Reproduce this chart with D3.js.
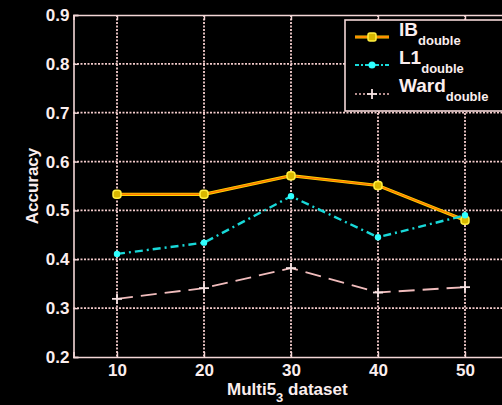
<!DOCTYPE html>
<html><head><meta charset="utf-8">
<script src="https://cdn.jsdelivr.net/npm/d3@7"></script>
<style>
html,body{margin:0;padding:0;background:#000;}
svg{display:block;}
text{font-family:"Liberation Sans",Arial,sans-serif;font-weight:bold;fill:#fbeeee;}
</style></head>
<body>
<svg id="c" width="502" height="405"></svg>
<script>
const xValues = [10, 20, 30, 40, 50];
const ibDouble = [0.533, 0.533, 0.571, 0.551, 0.48];
const l1Double = [0.411, 0.434, 0.529, 0.445, 0.49];
const wardDouble = [0.319, 0.341, 0.382, 0.332, 0.343];
const xTicks = [10, 20, 30, 40, 50];
const yTicks = [0.2, 0.3, 0.4, 0.5, 0.6, 0.7, 0.8, 0.9];
const seriesNames = ["IB", "L1", "Ward"];
const seriesSub = "double";

const svg = d3.select("#c");
const W = 502, H = 405;
svg.append("rect").attr("width", W).attr("height", H).attr("fill", "#000");

const pLeft = 73.5, pTop = 15, pBottom = 357, pRight = 508.5;
const x = d3.scaleLinear().domain([5, 55]).range([pLeft, pRight]);
const y = d3.scaleLinear().domain([0.2, 0.9]).range([pBottom, pTop]);

const gridColor = "#f4cccc";
const axisColor = "#f3d6d6";

// grid
const g = svg.append("g");
g.selectAll(".gx").data(xTicks).join("line")
  .attr("x1", d => x(d)).attr("x2", d => x(d)).attr("y1", pTop).attr("y2", pBottom)
  .attr("stroke", gridColor).attr("stroke-width", 1.8).attr("stroke-dasharray", "2,1.5");
g.selectAll(".gy").data(yTicks.slice(1, -1)).join("line")
  .attr("x1", pLeft).attr("x2", pRight).attr("y1", d => y(d)).attr("y2", d => y(d))
  .attr("stroke", gridColor).attr("stroke-width", 1.8).attr("stroke-dasharray", "2,1.5");

// axes box
const axB = d3.axisBottom(x).tickValues(xTicks).tickSize(-5).tickPadding(7).tickFormat(d3.format("d"));
const axT = d3.axisTop(x).tickValues(xTicks).tickSize(-5).tickFormat("");
const axL = d3.axisLeft(y).tickValues(yTicks).tickSize(-5).tickPadding(4).tickFormat(d3.format(".1f"));
function style(sel){
  sel.select(".domain").attr("stroke", axisColor).attr("stroke-width", 1.6);
  sel.selectAll(".tick line").attr("stroke", axisColor).attr("stroke-width", 1.4);
  sel.selectAll(".tick text").attr("fill", "#fbeeee").style("font-size", "17px").style("font-family", "Liberation Sans, Arial, sans-serif").style("font-weight", "bold");
}
svg.append("g").attr("transform", `translate(0,${pBottom})`).call(axB).call(style);
svg.append("g").attr("transform", `translate(0,${pTop})`).call(axT).call(style);
svg.append("g").attr("transform", `translate(${pLeft},0)`).call(axL).call(style);

// lines
const line = d3.line().x((d, i) => x(xValues[i])).y(d => y(d));

// IB: orange line with yellow edge
svg.append("path").datum(ibDouble).attr("d", line).attr("fill", "none")
  .attr("stroke", "#ffd400").attr("stroke-width", 3.2);
svg.append("path").datum(ibDouble).attr("d", line).attr("fill", "none")
  .attr("stroke", "#ff7a00").attr("stroke-width", 1.4);
svg.selectAll(".mib").data(ibDouble).join("rect")
  .attr("x", (d, i) => x(xValues[i]) - 4).attr("y", d => y(d) - 4)
  .attr("width", 8).attr("height", 8).attr("rx", 3)
  .attr("fill", "#d8b800").attr("stroke", "#ffef40").attr("stroke-width", 1.5);

// L1: cyan dash-dot
svg.append("path").datum(l1Double).attr("d", line).attr("fill", "none")
  .attr("stroke", "#18d8d8").attr("stroke-width", 2.4).attr("stroke-dasharray", "8,4,2,4");
svg.selectAll(".ml1").data(l1Double).join("circle")
  .attr("cx", (d, i) => x(xValues[i])).attr("cy", d => y(d)).attr("r", 3.2)
  .attr("fill", "#30ffff");

// Ward: pinkish dashed with plus
svg.append("path").datum(wardDouble).attr("d", line).attr("fill", "none")
  .attr("stroke", "#f0bcbc").attr("stroke-width", 1.8).attr("stroke-dasharray", "16,8");
const plus = svg.selectAll(".mw").data(wardDouble).join("g")
  .attr("transform", (d, i) => `translate(${x(xValues[i])},${y(d)})`);
plus.append("line").attr("x1", -5).attr("x2", 5).attr("stroke", "#f6e2e2").attr("stroke-width", 1.8);
plus.append("line").attr("y1", -5).attr("y2", 5).attr("stroke", "#f6e2e2").attr("stroke-width", 1.8);

// axis labels
svg.append("text").attr("x", 227).attr("y", 395).style("font-size", "17px")
  .call(t => {
    t.append("tspan").text("Multi5");
    t.append("tspan").attr("dy", 7).style("font-size", "13px").text("3");
    t.append("tspan").attr("dy", -7).text(" dataset");
  });
svg.append("text").attr("transform", "translate(38,186) rotate(-90)")
  .attr("text-anchor", "middle").style("font-size", "17px").text("Accuracy");

// legend
const lg = svg.append("g");
lg.append("rect").attr("x", 345).attr("y", 20).attr("width", 170).attr("height", 91)
  .attr("fill", "#000").attr("stroke", axisColor).attr("stroke-width", 1.6);
const legY = [37, 65, 94];
const baseY = [36, 64, 92];
// IB sample
lg.append("line").attr("x1", 355).attr("x2", 389).attr("y1", legY[0]).attr("y2", legY[0])
  .attr("stroke", "#ffd400").attr("stroke-width", 3.2);
lg.append("line").attr("x1", 355).attr("x2", 389).attr("y1", legY[0]).attr("y2", legY[0])
  .attr("stroke", "#ff7a00").attr("stroke-width", 1.4);
lg.append("rect").attr("x", 372 - 4).attr("y", legY[0] - 4).attr("width", 8).attr("height", 8).attr("rx", 2)
  .attr("fill", "#d8b800").attr("stroke", "#ffef40").attr("stroke-width", 1.5);
// L1 sample
lg.append("line").attr("x1", 355).attr("x2", 389).attr("y1", legY[1]).attr("y2", legY[1])
  .attr("stroke", "#18d8d8").attr("stroke-width", 2).attr("stroke-dasharray", "4,2,2,2");
lg.append("circle").attr("cx", 372).attr("cy", legY[1]).attr("r", 3.5).attr("fill", "#30ffff");
// Ward sample
lg.append("line").attr("x1", 355).attr("x2", 389).attr("y1", legY[2]).attr("y2", legY[2])
  .attr("stroke", "#f0bcbc").attr("stroke-width", 1.6).attr("stroke-dasharray", "2,2");
lg.append("line").attr("x1", 367).attr("x2", 377).attr("y1", legY[2]).attr("y2", legY[2]).attr("stroke", "#f6e2e2").attr("stroke-width", 1.8);
lg.append("line").attr("x1", 372).attr("x2", 372).attr("y1", legY[2] - 5).attr("y2", legY[2] + 5).attr("stroke", "#f6e2e2").attr("stroke-width", 1.8);

seriesNames.forEach((n, i) => {
  const t = lg.append("text").attr("x", 399).attr("y", baseY[i]).style("font-size", "19px");
  t.append("tspan").text(n);
  t.append("tspan").attr("dy", 9).style("font-size", "13px").text(seriesSub);
});
</script>
</body></html>
